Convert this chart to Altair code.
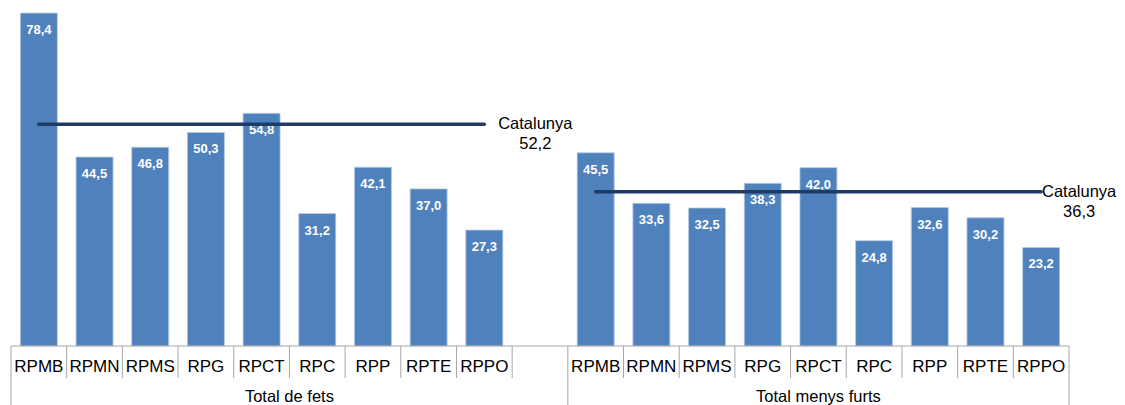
import altair as alt
import pandas as pd

categories = ["RPMB", "RPMN", "RPMS", "RPG", "RPCT", "RPC", "RPP", "RPTE", "RPPO"]
groups = ["Total de fets", "Total menys furts"]
total_de_fets = [78.4, 44.5, 46.8, 50.3, 54.8, 31.2, 42.1, 37.0, 27.3]
total_menys_furts = [45.5, 33.6, 32.5, 38.3, 42.0, 24.8, 32.6, 30.2, 23.2]
catalunya = [52.2, 36.3]

series = [total_de_fets, total_menys_furts]
# slot layout: each group has its categories; the first group carries one empty slot after it
group_slots = [len(categories) + 1, len(categories)]


def fmt(v):
    return f"{v:.1f}".replace(".", ",")


rows, sep_short, sep_long, grp_rows, cat_rows = [], [], [], [], []
start = 0
for g, name in enumerate(groups):
    for i, (c, v) in enumerate(zip(categories, series[g])):
        rows.append({"group": name, "cat": c, "slot": start + i, "value": v, "label": fmt(v)})
    last = start + len(categories) - 1
    cat_rows.append({"group": name, "gi": g, "x": start, "x2": last, "value": catalunya[g],
                     "label": ["Catalunya", fmt(catalunya[g])]})
    grp_rows.append({"group": name, "center": start + (group_slots[g] - 1) / 2})
    sep_long.append({"b": start - 0.5})
    for i in range(1, len(categories) + 1):
        b = start + i - 0.5
        if i == group_slots[g]:
            continue
        sep_short.append({"b": b})
    start += group_slots[g]
sep_long.append({"b": start - 0.5})
n_slots = start

df = pd.DataFrame(rows)
cat_df = pd.DataFrame(cat_rows)
grp_df = pd.DataFrame(grp_rows)
short_df = pd.DataFrame(sep_short)
long_df = pd.DataFrame(sep_long)
axis_df = pd.DataFrame([{"a": -0.5, "b": n_slots - 0.5, "y": 0}])

PLOT_W = 1058
PLOT_H = 338
FONT = "Liberation Sans"
AXIS_COLOR = "#A6A6A6"

xs = alt.Scale(domain=[-0.5, n_slots - 0.5], nice=False, zero=False, padding=0)
ys = alt.Scale(domain=[0, 79.6], nice=False, zero=True, padding=0)

bars = alt.Chart(df).mark_bar(size=37, color="#4F81BD", stroke="#B8CCE4", strokeWidth=0.8).encode(
    x=alt.X("slot:Q", scale=xs, axis=None),
    y=alt.Y("value:Q", scale=ys, axis=None),
)

values = alt.Chart(df).mark_text(color="white", fontWeight="bold", fontSize=13, font=FONT,
                                 baseline="middle", dy=17).encode(
    x=alt.X("slot:Q", scale=xs),
    y=alt.Y("value:Q", scale=ys),
    text="label:N",
)

base_line = alt.Chart(axis_df).mark_rule(color=AXIS_COLOR, strokeWidth=1).encode(
    x=alt.X("a:Q", scale=xs), x2="b:Q", y=alt.Y("y:Q", scale=ys)
)

short_ticks = alt.Chart(short_df).mark_rule(color=AXIS_COLOR, strokeWidth=1).encode(
    x=alt.X("b:Q", scale=xs), y=alt.value(PLOT_H), y2=alt.value(PLOT_H + 32)
)

long_ticks = alt.Chart(long_df).mark_rule(color=AXIS_COLOR, strokeWidth=1).encode(
    x=alt.X("b:Q", scale=xs), y=alt.value(PLOT_H), y2=alt.value(PLOT_H + 70)
)

cat_labels = alt.Chart(df).mark_text(fontSize=17, font=FONT, color="black", baseline="middle").encode(
    x=alt.X("slot:Q", scale=xs), y=alt.value(PLOT_H + 21), text="cat:N"
)

grp_labels = alt.Chart(grp_df).mark_text(fontSize=16.5, font=FONT, color="black", baseline="middle").encode(
    x=alt.X("center:Q", scale=xs), y=alt.value(PLOT_H + 51), text="group:N"
)

cat_line = alt.Chart(cat_df).mark_rule(color="#1F3B63", strokeWidth=3.5, strokeCap="round").encode(
    x=alt.X("x:Q", scale=xs), x2="x2:Q", y=alt.Y("value:Q", scale=ys)
)


def cat_text(gi, dx):
    return alt.Chart(cat_df).transform_filter(alt.datum.gi == gi).mark_text(
        fontSize=16.5, font=FONT, color="black", align="center",
        baseline="middle", lineHeight=20, dx=dx
    ).encode(x=alt.X("x2:Q", scale=xs), y=alt.Y("value:Q", scale=ys), text="label")


chart = alt.layer(
    bars, values, base_line, short_ticks, long_ticks, cat_labels, grp_labels, cat_line,
    cat_text(0, 51), cat_text(1, 38)
).properties(
    width=PLOT_W, height=PLOT_H,
    autosize=alt.AutoSizeParams(type="none"),
    padding={"left": 3, "top": 0, "right": 48, "bottom": 59},
).configure_view(stroke=None)

chart.save("out.html", embed_options={"renderer": "svg", "actions": False})
